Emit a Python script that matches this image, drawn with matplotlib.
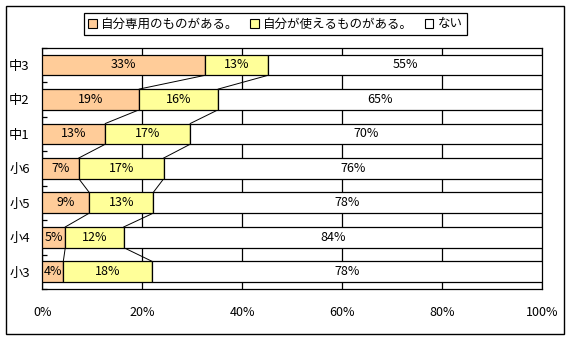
import numpy as np
import matplotlib.pyplot as plt
from matplotlib.patches import Rectangle, Patch

plt.rcParams['font.family'] = ['Noto Sans CJK JP', 'DejaVu Sans']
plt.rcParams['font.size'] = 9

# data (top to bottom)
cats = ['中3', '中2', '中1', '小6', '小5', '小4', '小3']
own = [32.6, 19.4, 12.6, 7.3, 9.4, 4.6, 4.2]
share = [12.6, 15.8, 17.0, 17.0, 12.8, 11.7, 17.8]
none = [54.8, 64.8, 70.4, 75.7, 77.8, 83.7, 78.0]
names = ['自分専用のものがある。', '自分が使えるものがある。', 'ない']
colors = ['#FFCC99', '#FFFF99', '#FFFFFF']
xticks = [0, 20, 40, 60, 80, 100]

fig = plt.figure(figsize=(5.75, 3.4), dpi=100)
ax = fig.add_axes([42.3/575, 51/340, 499.7/575, 241.3/340])

y = np.arange(len(cats))
h = 0.6
left = np.zeros(len(cats))
bounds = []
for vals, c in zip([own, share, none], colors):
    vals = np.array(vals)
    ax.barh(y, vals, left=left, height=h, color=c, edgecolor='black', linewidth=0.9, zorder=3)
    for yi, l, v in zip(y, left, vals):
        ax.text(l + v/2, yi, f'{round(v)}%', ha='center', va='center', fontsize=9, zorder=4)
    left = left + vals
    bounds.append(left.copy())

# series lines
for b in bounds[:2]:
    for i in range(len(cats)-1):
        ax.plot([b[i], b[i+1]], [i + h/2, i + 1 - h/2], color='black', lw=0.7, zorder=2)

ax.set_xlim(0, 100)
ax.set_ylim(len(cats) - 0.5, -0.5)
ax.set_xticks(xticks)
ax.set_xticklabels([f'{t}%' for t in xticks])
ax.tick_params(axis='x', length=0, pad=12)
ax.set_yticks(y)
ax.set_yticklabels(cats, fontsize=9.5)
ax.tick_params(axis='y', which='major', length=0, pad=9)
ax.set_yticks(np.arange(-0.5, len(cats), 1), minor=True)
ax.tick_params(axis='y', which='minor', direction='in', length=3.6, width=0.9)
ax.grid(axis='x', color='black', lw=0.9, zorder=0)
for s in ax.spines.values():
    s.set_linewidth(0.9)

handles = [Patch(facecolor=c, edgecolor='black', linewidth=0.8) for c in colors]
leg = fig.legend(handles, names, loc='center', bbox_to_anchor=(275.5/575, 1 - 24/340),
                 ncol=3, fancybox=False, edgecolor='black', framealpha=1,
                 handlelength=0.7, handleheight=0.7, handletextpad=0.35,
                 columnspacing=0.9, borderpad=0.35, fontsize=9)
leg.get_frame().set_linewidth(0.9)

fig.patches.append(Rectangle((6/575, 6/340), 558/575, 328/340, transform=fig.transFigure,
                             fill=False, edgecolor='black', lw=1))

fig.savefig('out.png', dpi=100)
